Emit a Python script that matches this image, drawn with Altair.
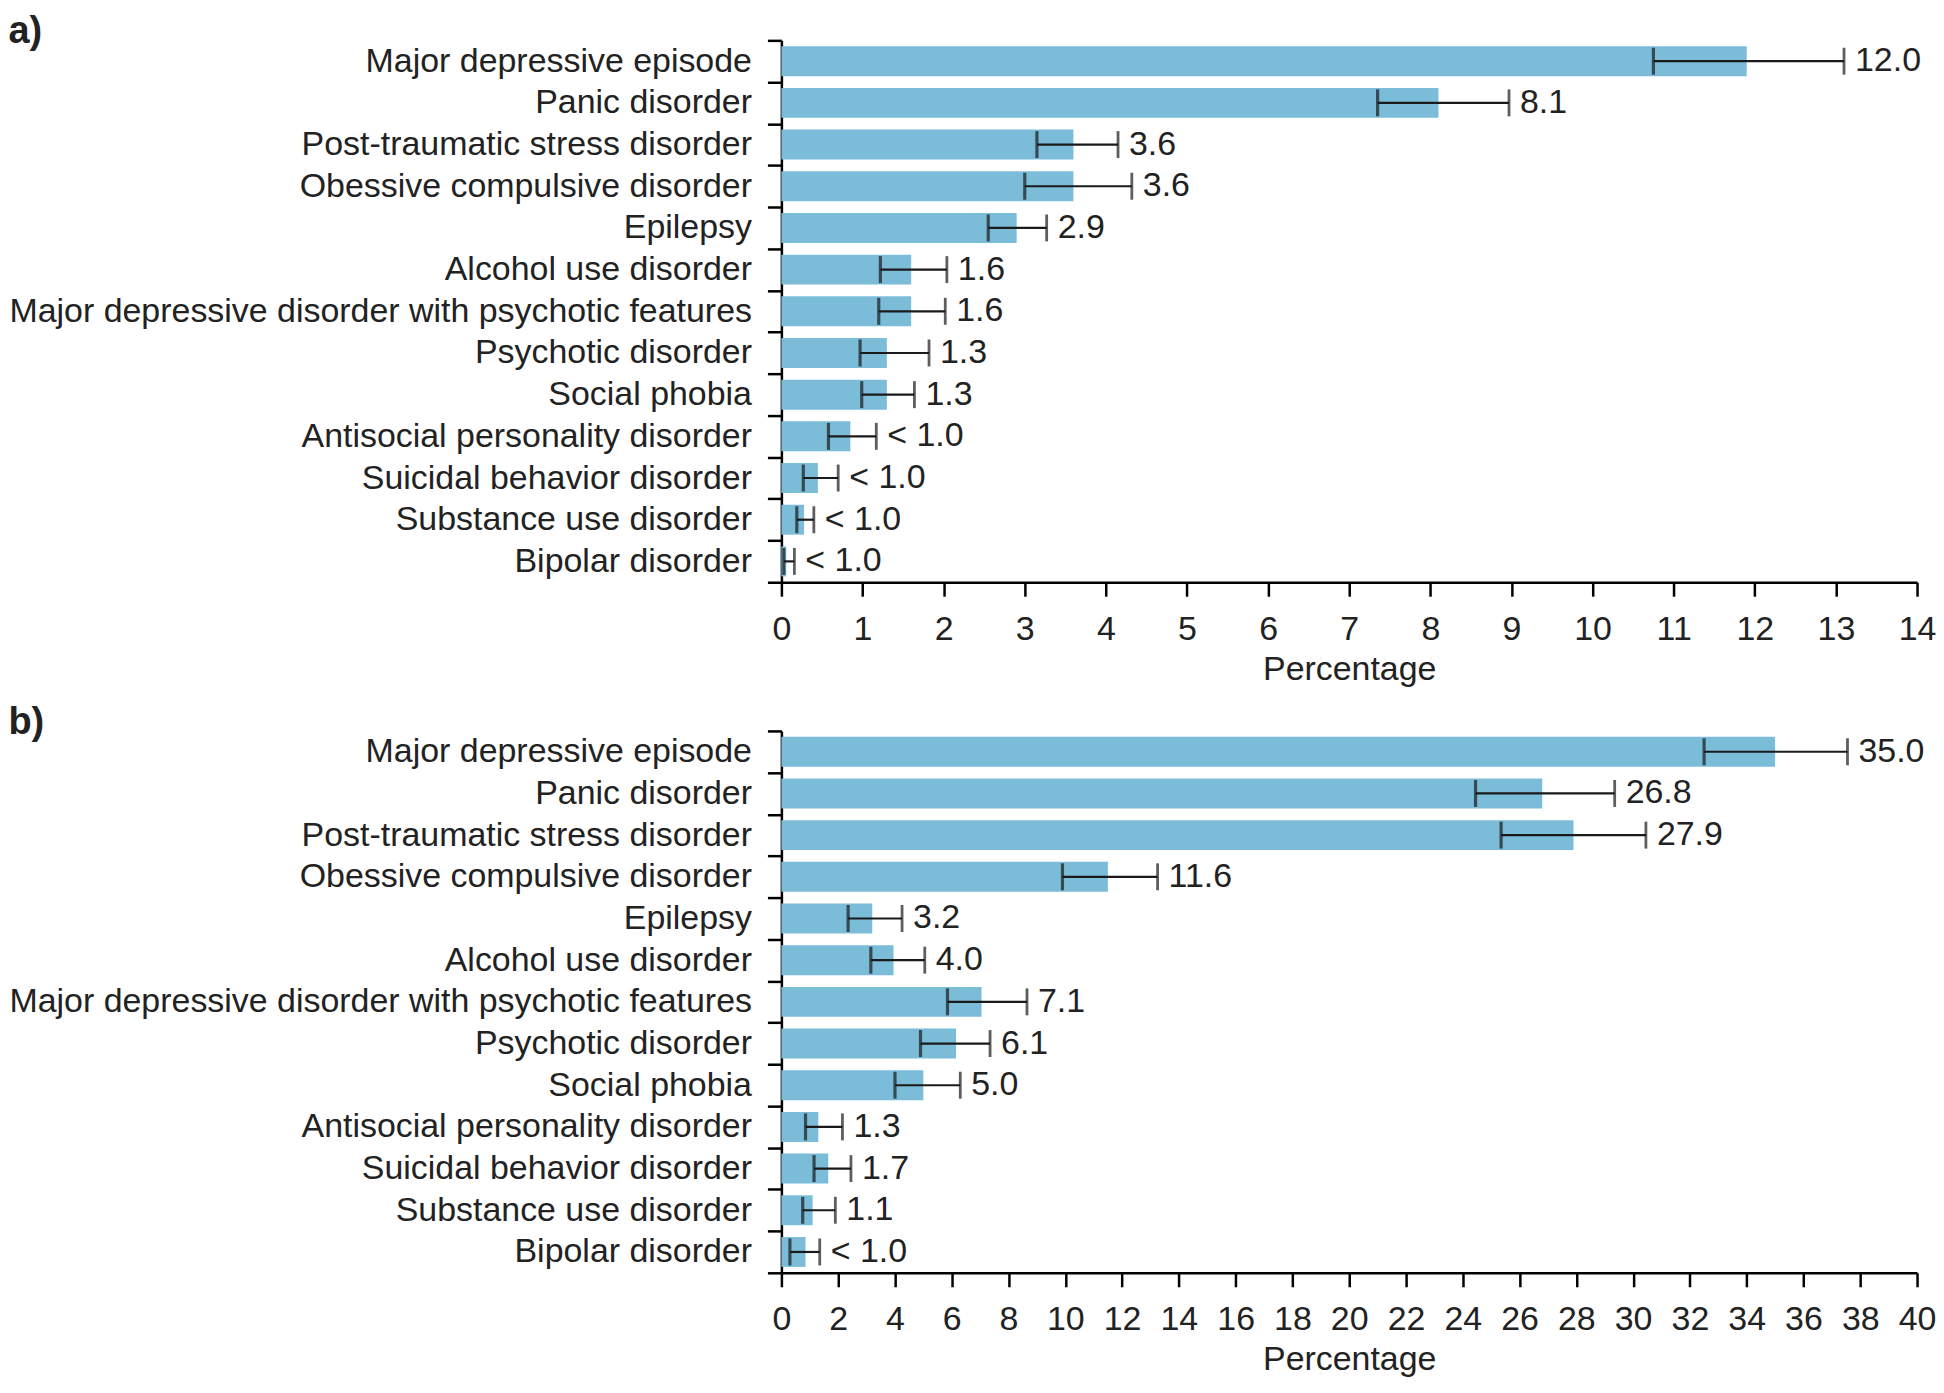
import altair as alt
import pandas as pd

categories = [
    "Major depressive episode",
    "Panic disorder",
    "Post-traumatic stress disorder",
    "Obessive compulsive disorder",
    "Epilepsy",
    "Alcohol use disorder",
    "Major depressive disorder with psychotic features",
    "Psychotic disorder",
    "Social phobia",
    "Antisocial personality disorder",
    "Suicidal behavior disorder",
    "Substance use disorder",
    "Bipolar disorder",
]

a_value = [11.9, 8.1, 3.6, 3.6, 2.9, 1.6, 1.6, 1.3, 1.3, 0.85, 0.45, 0.28, 0.06]
a_low = [10.75, 7.35, 3.15, 3.0, 2.55, 1.22, 1.2, 0.97, 0.99, 0.58, 0.27, 0.19, 0.03]
a_high = [13.1, 8.97, 4.15, 4.32, 3.27, 2.04, 2.02, 1.82, 1.64, 1.17, 0.7, 0.4, 0.16]
a_label = ["12.0", "8.1", "3.6", "3.6", "2.9", "1.6", "1.6", "1.3", "1.3",
           "< 1.0", "< 1.0", "< 1.0", "< 1.0"]

b_value = [35.0, 26.8, 27.9, 11.5, 3.2, 3.95, 7.05, 6.15, 5.0, 1.3, 1.65, 1.1, 0.85]
b_low = [32.5, 24.45, 25.35, 9.9, 2.35, 3.15, 5.85, 4.9, 4.0, 0.85, 1.15, 0.75, 0.3]
b_high = [37.55, 29.35, 30.45, 13.25, 4.25, 5.05, 8.65, 7.35, 6.3, 2.15, 2.45, 1.9, 1.35]
b_label = ["35.0", "26.8", "27.9", "11.6", "3.2", "4.0", "7.1", "6.1", "5.0",
           "1.3", "1.7", "1.1", "< 1.0"]

a_ticks = list(range(0, 15, 1))
b_ticks = list(range(0, 41, 2))

FONT = "Liberation Sans"
BAR = "#7bbcd9"
INK = "#1a1a1a"


def panel(tag, value, low, high, label, ticks):
    df = pd.DataFrame({"cat": categories, "value": value, "low": low,
                       "high": high, "label": label})
    base = alt.Chart(df)
    xs = alt.Scale(domain=[ticks[0], ticks[-1]], nice=False)
    xaxis = alt.Axis(values=ticks, title="Percentage", tickSize=14,
                     labelPadding=16, titlePadding=6, grid=False,
                     labelFlush=False)
    y = alt.Y("cat:N", sort=categories, title=None,
              scale=alt.Scale(paddingInner=0, paddingOuter=0),
              axis=alt.Axis(tickBand="extent", tickSize=14, labelPadding=16,
                            labelLimit=1000, grid=False))
    bars = base.mark_bar(color=BAR, size=30).encode(
        x=alt.X("value:Q", scale=xs, axis=xaxis), y=y)
    rule = base.mark_rule(color=INK, strokeWidth=2.2).encode(
        x=alt.X("low:Q", scale=xs, axis=xaxis), x2="high:Q", y=y)
    cap_lo = base.mark_tick(color=INK, thickness=3.2, size=27).encode(
        x=alt.X("low:Q", scale=xs, axis=xaxis), y=y)
    cap_hi = base.mark_tick(color=INK, thickness=2.8, size=27).encode(
        x=alt.X("high:Q", scale=xs, axis=xaxis), y=y)
    text = base.mark_text(align="left", baseline="middle", dx=11,
                          font=FONT, fontSize=34, color="#222222").encode(
        x=alt.X("high:Q", scale=xs, axis=xaxis), y=y, text="label:N")
    return alt.layer(bars, rule, cap_lo, cap_hi, text).properties(
        width=1138, height=543,
        title=alt.TitleParams(tag, anchor="start", frame="bounds",
                              fontSize=38, fontWeight="bold", font=FONT,
                              color="#222222", offset=-28))


chart = alt.vconcat(
    panel("a)", a_value, a_low, a_high, a_label, a_ticks),
    panel("b)", b_value, b_low, b_high, b_label, b_ticks),
    spacing=18,
).properties(
    padding={"left": 0, "top": 4, "right": 0, "bottom": 0}
).configure_view(stroke=None).configure_axis(
    labelFont=FONT, labelFontSize=34, labelColor="#222222",
    titleFont=FONT, titleFontSize=34, titleFontWeight="normal",
    titleColor="#222222",
    domainColor="black", domainWidth=2.5, tickColor="black", tickWidth=2.5,
)

chart.save("out.html", embed_options={"renderer": "svg", "actions": False})
